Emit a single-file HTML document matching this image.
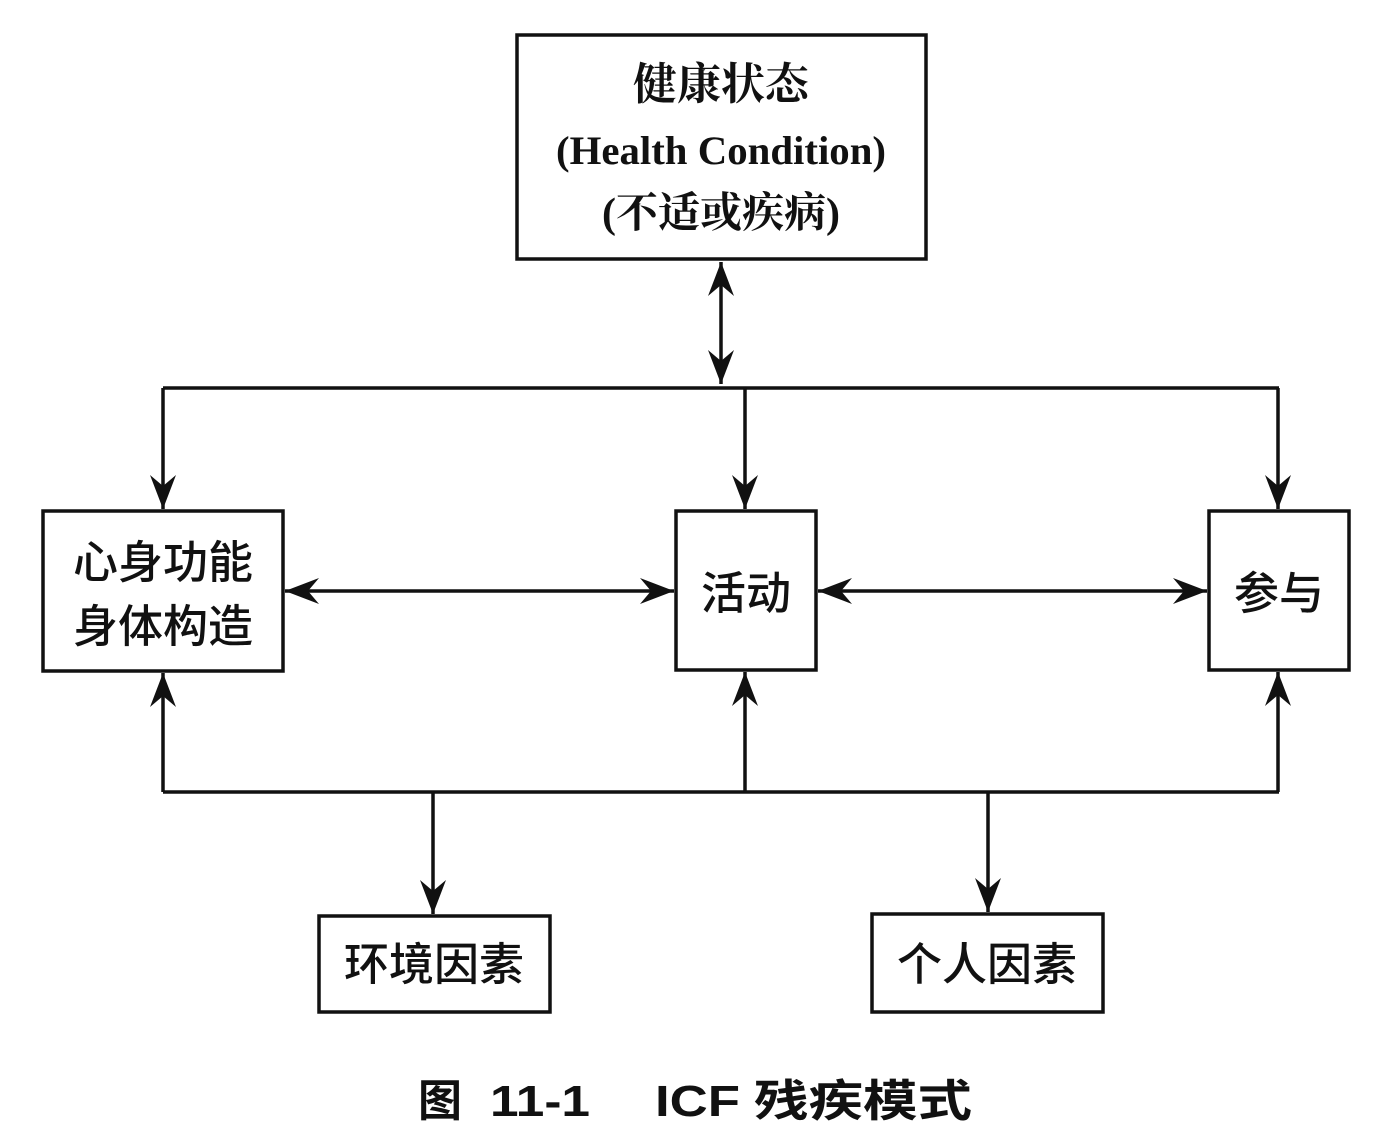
<!DOCTYPE html>
<html><head><meta charset="utf-8"><style>
html,body{margin:0;padding:0;background:#fff;}
svg{display:block;}
.c{font-family:"Liberation Sans","Noto Sans CJK SC",sans-serif;fill:#111;font-weight:500;}
.s{font-family:"Liberation Serif","Noto Serif CJK SC",serif;fill:#111;font-weight:bold;}
.k{font-family:"Liberation Sans","Noto Sans CJK SC",sans-serif;fill:#111;font-weight:bold;}
</style></head><body>
<svg width="1378" height="1136" viewBox="0 0 1378 1136" xmlns="http://www.w3.org/2000/svg">
<defs>
<marker id="a" viewBox="0 0 34 26" refX="34" refY="13" markerWidth="34" markerHeight="26" markerUnits="userSpaceOnUse" orient="auto-start-reverse">
<path d="M34,13 L0,0 L11,13 L0,26 Z" fill="#111"/>
</marker>
</defs>
<g fill="none" stroke="#111" stroke-width="3.5">
<rect x="517" y="35" width="409" height="224"/>
<rect x="43" y="511" width="240" height="160"/>
<rect x="676" y="511" width="140" height="159"/>
<rect x="1209" y="511" width="140" height="159"/>
<rect x="319" y="916" width="231" height="96"/>
<rect x="872" y="914" width="231" height="98"/>
<line x1="721" y1="262" x2="721" y2="384" marker-start="url(#a)" marker-end="url(#a)"/>
<line x1="163" y1="388" x2="1279" y2="388"/>
<line x1="163" y1="388" x2="163" y2="509" marker-end="url(#a)"/>
<line x1="745" y1="388" x2="745" y2="509" marker-end="url(#a)"/>
<line x1="1278" y1="388" x2="1278" y2="509" marker-end="url(#a)"/>
<line x1="285" y1="591" x2="674" y2="591" marker-start="url(#a)" marker-end="url(#a)"/>
<line x1="818" y1="591" x2="1207" y2="591" marker-start="url(#a)" marker-end="url(#a)"/>
<line x1="163" y1="792" x2="1279" y2="792"/>
<line x1="163" y1="792" x2="163" y2="673" marker-end="url(#a)"/>
<line x1="745" y1="792" x2="745" y2="672" marker-end="url(#a)"/>
<line x1="1278" y1="792" x2="1278" y2="672" marker-end="url(#a)"/>
<line x1="433" y1="792" x2="433" y2="914" marker-end="url(#a)"/>
<line x1="988" y1="792" x2="988" y2="912" marker-end="url(#a)"/>
</g>
<g text-anchor="middle">
<text class="s" x="721" y="99" font-size="44">健康状态</text>
<text class="s" x="721" y="164" font-size="40" textLength="330" lengthAdjust="spacingAndGlyphs">(Health Condition)</text>
<text class="s" x="721" y="227" font-size="42">(不适或疾病)</text>
<text class="c" x="163" y="578" font-size="45">心身功能</text>
<text class="c" x="163" y="642" font-size="45">身体构造</text>
<text class="c" x="746" y="609" font-size="45">活动</text>
<text class="c" x="1279" y="609" font-size="45">参与</text>
<text class="c" x="434" y="980" font-size="45">环境因素</text>
<text class="c" x="987" y="980" font-size="45">个人因素</text>
</g>
<g font-size="44">
<text class="k" x="418" y="1116">图</text>
<text class="k" x="490" y="1116" textLength="100" lengthAdjust="spacingAndGlyphs">11-1</text>
<text class="k" x="655" y="1116" textLength="85" lengthAdjust="spacingAndGlyphs">ICF</text>
<text class="k" x="754" y="1116" textLength="218" lengthAdjust="spacingAndGlyphs">残疾模式</text>
</g>
</svg>
</body></html>
